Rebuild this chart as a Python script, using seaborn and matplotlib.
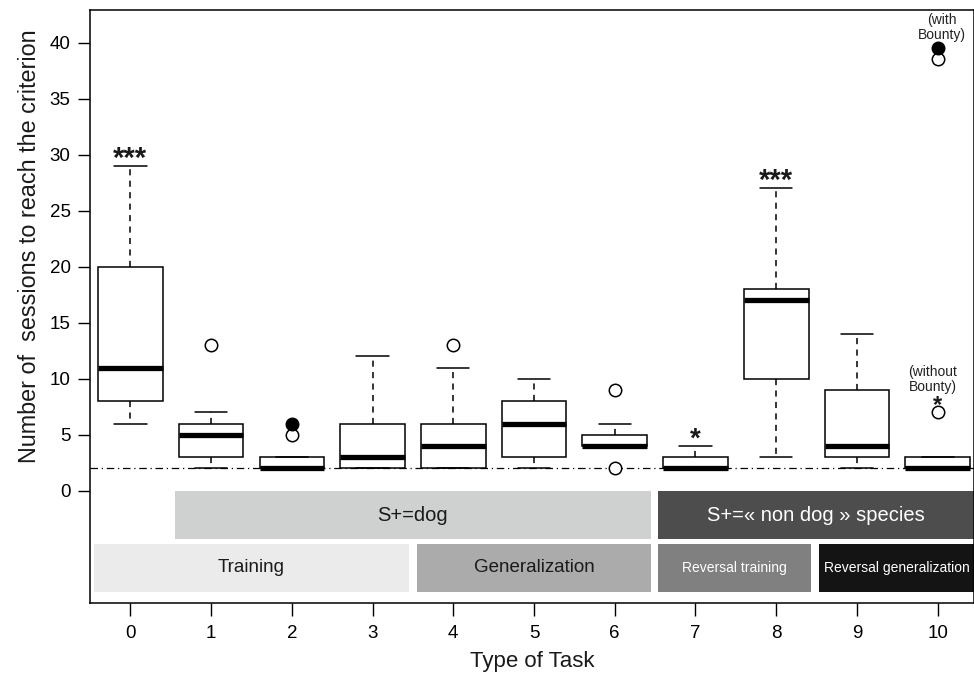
import numpy as np
import pandas as pd
import matplotlib
matplotlib.use("Agg")
import matplotlib.pyplot as plt
from matplotlib.patches import Rectangle
import seaborn as sns

# ---------------- data ----------------
tasks = [0, 1, 2, 3, 4, 5, 6, 7, 8, 9, 10]
whisker_low = [6, 2, 2, 2, 2, 2, 4, 2, 3, 2, 2]
q1 = [8, 3, 2, 2, 2, 3, 4, 2, 10, 3, 2]
median = [11, 5, 2, 3, 4, 6, 4, 2, 17, 4, 2]
q3 = [20, 6, 3, 6, 6, 8, 5, 3, 18, 9, 3]
whisker_high = [29, 7, 3, 12, 11, 10, 6, 4, 27, 14, 3]

open_out_task = [1, 2, 4, 6, 6, 10, 10]
open_out_val = [13, 5, 13, 9, 2, 7, 38.5]
filled_out_task = [2, 10]
filled_out_val = [6, 39.5]

criterion = 2

stars_task = [0, 8, 7, 10]
stars_val = [30.0, 28.1, 5.0, 7.95]      # visual centre of the asterisks
stars_text = ["***", "***", "*", "*"]
stars_size = [21, 21, 20, 17]

notes_text = ["(with\nBounty)", "(without\nBounty)"]
notes_task = [10.05, 9.94]
notes_val = [41.35, 9.95]

band1_labels = ["S+=dog", "S+=\u00ab non dog \u00bb species"]
band1_start = [0.55, 6.53]
band1_end = [6.45, 10.6]
band1_colors = ["#cfd0d0", "#4d4d4d"]
band1_text_colors = ["#1a1a1a", "white"]

band2_labels = ["Training", "Generalization", "Reversal training", "Reversal generalization"]
band2_start = [-0.45, 3.55, 6.53, 8.53]
band2_end = [3.45, 6.45, 8.43, 10.6]
band2_colors = ["#ebebeb", "#ababab", "#808080", "#141414"]
band2_text_colors = ["#1a1a1a", "#1a1a1a", "white", "white"]
band2_sizes = [13.5, 13.5, 10, 10]

yticks = [0, 5, 10, 15, 20, 25, 30, 35, 40]

# long-form table: five numbers per task -> quartiles reproduce exactly with whis=(0,100)
rows = []
for t, a, b, c, d, e in zip(tasks, whisker_low, q1, median, q3, whisker_high):
    for v in (a, b, c, d, e):
        rows.append({"task": str(t), "value": v})
df = pd.DataFrame(rows)

# ---------------- plot ----------------
sns.set_style("ticks")
plt.rcParams["font.family"] = ["Liberation Sans", "DejaVu Sans"]

fig = plt.figure(figsize=(9.74, 6.8), dpi=100)
ax = fig.add_axes([90 / 974, 1 - 603 / 680, 884 / 974, (603 - 10) / 680])

ax.axhline(criterion, color="black", lw=0.9, ls=(0, (6, 3, 1, 3)), zorder=1)

sns.boxplot(
    data=df, x="task", y="value", order=[str(t) for t in tasks],
    whis=(0, 100), width=0.8, color="white", linecolor="black", linewidth=1.1,
    showfliers=False, ax=ax,
    medianprops=dict(linewidth=3.8, color="black", solid_capstyle="butt"),
    whiskerprops=dict(linestyle=(0, (4, 3.5)), linewidth=1.1),
    capprops=dict(linewidth=1.1),
    zorder=2,
)

sns.scatterplot(x=open_out_task, y=open_out_val, ax=ax, s=80, marker="o",
                facecolor="white", edgecolor="black", linewidth=1.1, zorder=4,
                legend=False)
sns.scatterplot(x=filled_out_task, y=filled_out_val, ax=ax, s=80, marker="o",
                color="black", edgecolor="black", linewidth=1.1, zorder=5,
                legend=False)

# asterisk glyph sits well above the baseline: place by baseline
px_per_unit = 593 / 52.9
for t, v, s, fs in zip(stars_task, stars_val, stars_text, stars_size):
    shift = 0.43 * fs * 100 / 72 / px_per_unit
    ax.text(t, v - shift, s, ha="center", va="baseline", fontsize=fs,
            fontweight="bold", color="#1a1a1a", zorder=6)
for s, t, v in zip(notes_text, notes_task, notes_val):
    ax.text(t, v, s, ha="center", va="center", fontsize=10, linespacing=1.1,
            color="#222222", zorder=6)

# category bands below zero
for lab, x0, x1, c, tc in zip(band1_labels, band1_start, band1_end, band1_colors, band1_text_colors):
    ax.add_patch(Rectangle((x0, -4.3), x1 - x0, 4.3, facecolor=c, edgecolor="none", zorder=1))
    ax.text((x0 + min(x1, 10.45)) / 2, -2.15, lab, ha="center", va="center",
            fontsize=14.5, color=tc, zorder=3)
for lab, x0, x1, c, tc, fs in zip(band2_labels, band2_start, band2_end, band2_colors,
                                  band2_text_colors, band2_sizes):
    ax.add_patch(Rectangle((x0, -9.0), x1 - x0, 4.3, facecolor=c, edgecolor="none", zorder=1))
    ax.text((x0 + min(x1, 10.45)) / 2, -6.85, lab, ha="center", va="center",
            fontsize=fs, color=tc, zorder=3)

ax.set_xlim(-0.5, 10.45)
ax.set_ylim(-10, 42.9)
ax.set_yticks(yticks)
ax.set_yticklabels([str(v) for v in yticks])
ax.set_xticks(tasks)
ax.set_xticklabels([str(t) for t in tasks])

for sp in ax.spines.values():
    sp.set_visible(True)
    sp.set_color("black")
    sp.set_linewidth(1.1)

ax.tick_params(axis="y", direction="out", length=9, width=1, pad=5, labelsize=13.5,
               colors="black")
ax.tick_params(axis="x", direction="out", length=9, width=1, pad=7, labelsize=13.5,
               colors="black")

ax.set_ylabel("Number of  sessions to reach the criterion", fontsize=16.8, color="#1a1a1a")
ax.set_xlabel("Type of Task", fontsize=16, color="#1a1a1a")
ax.yaxis.set_label_coords((30 - 90) / 884, (603 - 246) / 593)
ax.xaxis.set_label_coords(0.5, (603 - 662) / 593)
ax.yaxis.label.set_va("center")
ax.xaxis.label.set_va("center")

fig.savefig("out.png", dpi=100)
